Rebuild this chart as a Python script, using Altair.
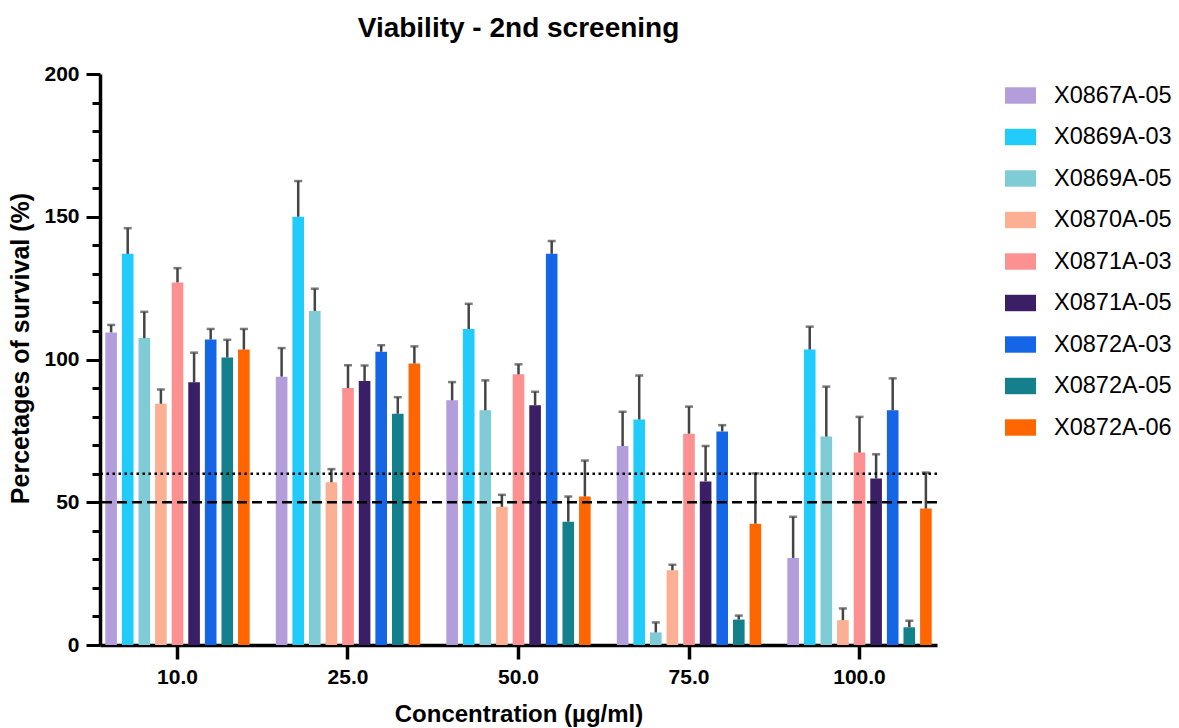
import altair as alt
import pandas as pd

# Concentrations tested (x categories) and compounds (one bar per compound)
concentrations = ["10.0", "25.0", "50.0", "75.0", "100.0"]
compounds = [
    "X0867A-05", "X0869A-03", "X0869A-05", "X0870A-05", "X0871A-03",
    "X0871A-05", "X0872A-03", "X0872A-05", "X0872A-06",
]
palette = [
    "#B39DDB", "#22CCFA", "#80CCD6", "#FBAF93", "#FD9090",
    "#3A1E66", "#1466E6", "#13808B", "#FF6501",
]

# Mean survival (%) per compound, ordered as `concentrations`
survival_x0867a_05 = [109.5, 94.0, 85.7, 69.7, 30.5]
survival_x0869a_03 = [137.0, 150.0, 110.7, 79.0, 103.5]
survival_x0869a_05 = [107.5, 117.0, 82.2, 4.4, 73.0]
survival_x0870a_05 = [84.5, 57.0, 48.4, 26.2, 8.7]
survival_x0871a_03 = [127.0, 90.0, 94.8, 74.0, 67.4]
survival_x0871a_05 = [92.0, 92.5, 84.0, 57.3, 58.3]
survival_x0872a_03 = [107.0, 102.7, 137.0, 74.8, 82.2]
survival_x0872a_05 = [100.7, 81.0, 43.2, 8.9, 6.2]
survival_x0872a_06 = [103.5, 98.6, 52.0, 42.5, 47.8]

# Standard deviation (upper error bar) per compound
sd_x0867a_05 = [2.6, 10.0, 6.4, 12.0, 14.4]
sd_x0869a_03 = [9.0, 12.5, 8.8, 15.4, 8.0]
sd_x0869a_05 = [9.2, 7.8, 10.5, 3.5, 17.5]
sd_x0870a_05 = [5.0, 4.6, 4.2, 1.9, 4.1]
sd_x0871a_03 = [5.0, 8.0, 3.5, 9.5, 12.5]
sd_x0871a_05 = [10.4, 5.4, 4.7, 12.4, 8.5]
sd_x0872a_03 = [3.7, 2.3, 4.5, 2.2, 11.2]
sd_x0872a_05 = [6.2, 5.8, 8.8, 1.4, 2.3]
sd_x0872a_06 = [7.2, 6.0, 12.6, 17.6, 12.6]

# Reference thresholds
cutoff_dashed = 50
cutoff_dotted = 60

y_ticks = list(range(0, 201, 10))

means = [
    survival_x0867a_05, survival_x0869a_03, survival_x0869a_05,
    survival_x0870a_05, survival_x0871a_03, survival_x0871a_05,
    survival_x0872a_03, survival_x0872a_05, survival_x0872a_06,
]
sds = [
    sd_x0867a_05, sd_x0869a_03, sd_x0869a_05, sd_x0870a_05, sd_x0871a_03,
    sd_x0871a_05, sd_x0872a_03, sd_x0872a_05, sd_x0872a_06,
]

rows = []
for name, m_list, s_list in zip(compounds, means, sds):
    for conc, m, s in zip(concentrations, m_list, s_list):
        rows.append({"conc": conc, "compound": name, "mean": m, "upper": m + s})
df = pd.DataFrame(rows)

FONT = "Liberation Sans"

x_enc = alt.X(
    "conc:N",
    sort=concentrations,
    scale=alt.Scale(paddingInner=0.124, paddingOuter=0.0165),
    axis=alt.Axis(
        title="Concentration (µg/ml)",
        titleFontSize=24,
        titleFontWeight="bold",
        titleFont=FONT,
        titleColor="black",
        titlePadding=15,
        labelFontSize=21,
        labelFontWeight="bold",
        labelFont=FONT,
        labelColor="black",
        labelAngle=0,
        labelPadding=7,
        domainColor="black",
        domainWidth=3.5,
        tickColor="black",
        tickWidth=3.5,
        tickSize=14,
        grid=False,
    ),
)
xoff_enc = alt.XOffset(
    "compound:N",
    sort=compounds,
    scale=alt.Scale(paddingInner=0.3, paddingOuter=0.15),
)
y_scale = alt.Scale(domain=[0, 200], nice=False, zero=True)

# One shared axis definition so every layer agrees on the tick values
y_axis = alt.Axis(
    title="Percetages of survival (%)",
    titleFontSize=25,
    titleFontWeight="bold",
    titleFont=FONT,
    titleColor="black",
    titlePadding=10,
    titleY=274,
    values=y_ticks,
    labelExpr="datum.value % 50 === 0 ? datum.label : ''",
    labelOverlap=False,
    labelFontSize=21,
    labelFontWeight="bold",
    labelFont=FONT,
    labelColor="black",
    labelPadding=7,
    domainColor="black",
    domainWidth=3.5,
    tickColor="black",
    tickWidth=3,
    tickSize={"condition": {"test": "datum.value % 50 === 0", "value": 14}, "value": 8},
    grid=False,
)

base = alt.Chart(df).encode(x=x_enc, xOffset=xoff_enc)

bars = base.mark_bar().encode(
    y=alt.Y("mean:Q", scale=y_scale, axis=y_axis),
    color=alt.Color(
        "compound:N",
        sort=compounds,
        scale=alt.Scale(domain=compounds, range=palette),
        legend=alt.Legend(
            title=None,
            orient="none",
            legendX=905,
            legendY=6,
            symbolType="M-1,-0.53L1,-0.53L1,0.53L-1,0.53Z",
            symbolSize=961,
            symbolStrokeWidth=0,
            symbolOpacity=1,
            labelFontSize=23.5,
            labelFont=FONT,
            labelColor="black",
            labelOffset=18,
            rowPadding=14.5,
        ),
    ),
)

stems = base.mark_rule(color="#444444", strokeWidth=2.5).encode(
    y=alt.Y("mean:Q", scale=y_scale, axis=y_axis), y2="upper:Q"
)
caps = base.mark_tick(color="#444444", thickness=2.5, size=8).encode(
    y=alt.Y("upper:Q", scale=y_scale, axis=y_axis)
)

dashed = alt.Chart(pd.DataFrame({"y": [cutoff_dashed]})).mark_rule(
    color="black", strokeWidth=2.5, strokeDash=[10, 5]
).encode(y=alt.Y("y:Q", scale=y_scale, axis=y_axis))
dotted = alt.Chart(pd.DataFrame({"y": [cutoff_dotted]})).mark_rule(
    color="black", strokeWidth=2.5, strokeDash=[2.5, 3.5]
).encode(y=alt.Y("y:Q", scale=y_scale, axis=y_axis))

chart = (
    alt.layer(bars, stems, caps, dotted, dashed)
    .properties(
        width=837,
        height=571,
        autosize=alt.AutoSizeParams(type="none"),
        padding={"left": 100, "top": 74, "right": 242, "bottom": 83},
        title=alt.TitleParams(
            "Viability - 2nd screening",
            fontSize=28,
            fontWeight="bold",
            font=FONT,
            color="black",
            anchor="middle",
            offset=20,
        ),
        background="white",
    )
    .configure_view(stroke=None)
)

chart.save("out.html", embed_options={"renderer": "svg", "actions": False})
